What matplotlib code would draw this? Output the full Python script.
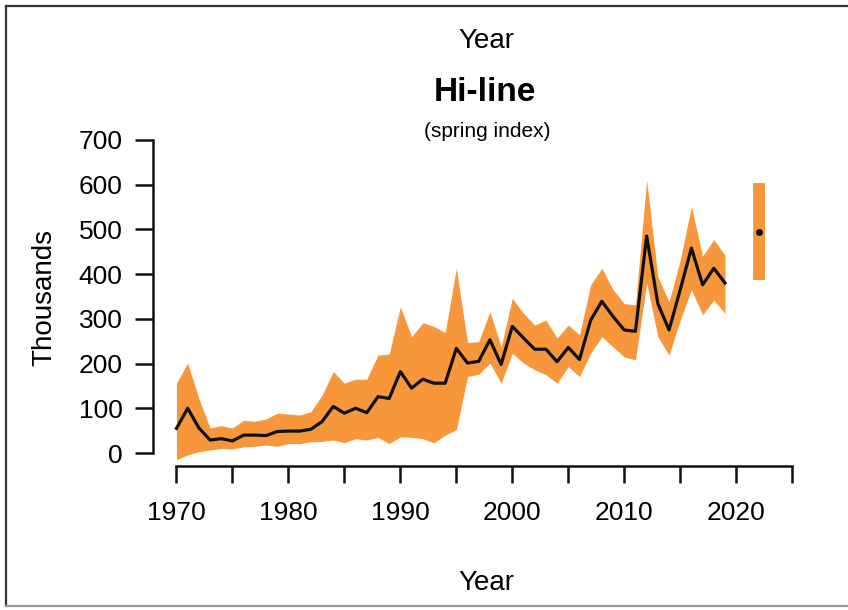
import numpy as np
import matplotlib
matplotlib.use("Agg")
import matplotlib.pyplot as plt
from matplotlib.lines import Line2D

plt.rcParams['font.family'] = ['Liberation Sans', 'DejaVu Sans']

# spring index (thousands)
years = np.arange(1970, 2020)
index = [55, 100, 56, 29, 32, 27, 40, 40, 39, 48,
         49, 49, 53, 70, 104, 89, 100, 90, 126, 122,
         182, 145, 165, 156, 156, 234, 201, 205, 253, 198,
         283, 257, 232, 232, 204, 236, 209, 297, 339, 305,
         275, 272, 485, 334, 275, 365, 458, 376, 413, 380]
upper = [156, 201, 122, 56, 61, 56, 73, 71, 76, 89,
         87, 85, 92, 129, 182, 156, 165, 165, 219, 221,
         327, 260, 291, 283, 269, 413, 247, 249, 316, 237,
         346, 312, 286, 297, 257, 286, 264, 376, 413, 365,
         334, 331, 610, 394, 338, 431, 551, 440, 477, 442]
lower = [-15, -4, 3, 7, 10, 9, 14, 15, 18, 15,
         21, 21, 25, 26, 29, 23, 32, 29, 35, 21,
         36, 35, 32, 23, 40, 52, 171, 176, 201, 156,
         223, 201, 186, 175, 156, 193, 171, 223, 260, 237,
         215, 208, 380, 260, 219, 297, 365, 309, 342, 312]

# projection
proj_year = 2022
proj_value = 495
proj_low, proj_high = 387, 604

ORANGE = '#F7963A'

fig = plt.figure(figsize=(8.48, 6.10), dpi=100)
ax = fig.add_axes([0.1804, 0.2361, 0.763, 0.5508])

ax.fill_between(years, lower, upper, color=ORANGE, lw=0)
ax.plot(years, index, color='#111111', lw=2.3)
ax.vlines(proj_year, proj_low, proj_high, color=ORANGE, lw=8.5)
ax.plot(proj_year, proj_value, 'o', color='#111111', ms=4)

ax.set_xlim(1967.9, 2025.7)
ax.set_ylim(-29, 722)

for s in ['top', 'right']:
    ax.spines[s].set_visible(False)
ax.spines['left'].set_bounds(0, 700)
ax.spines['bottom'].set_bounds(1970, 2025)
for s in ['left', 'bottom']:
    ax.spines[s].set_linewidth(1.8)
    ax.spines[s].set_color('#111111')

ax.set_yticks(np.arange(0, 701, 100))
xt = np.arange(1970, 2026, 5)
ax.set_xticks(xt)
ax.set_xticklabels([str(y) if y % 10 == 0 else '' for y in xt])
ax.tick_params(axis='y', length=13, width=1.8, pad=9, labelsize=19, color='#111111')
ax.tick_params(axis='x', length=12, width=1.8, pad=13, labelsize=19, color='#111111')

fig.text(0.052, 0.513, 'Thousands', rotation=90, ha='center', va='center', fontsize=20)
fig.text(0.574, 0.0443, 'Year', ha='center', va='center', fontsize=20)
fig.text(0.573, 0.932, 'Year', ha='center', va='center', fontsize=20)
fig.text(0.572, 0.848, 'Hi-line', ha='center', va='center', fontsize=24, fontweight='bold')
fig.text(0.575, 0.784, '(spring index)', ha='center', va='center', fontsize=15)

# frame round the figure (right side cut off)
fc = '#333333'
fig.add_artist(Line2D([0.007, 1.0], [0.990, 0.990], color=fc, lw=1.6))
fig.add_artist(Line2D([0.007, 0.007], [0.006, 0.990], color=fc, lw=1.6))
fig.add_artist(Line2D([0.007, 1.0], [0.006, 0.006], color='#999999', lw=1.6))

fig.savefig('out.png', dpi=100)
